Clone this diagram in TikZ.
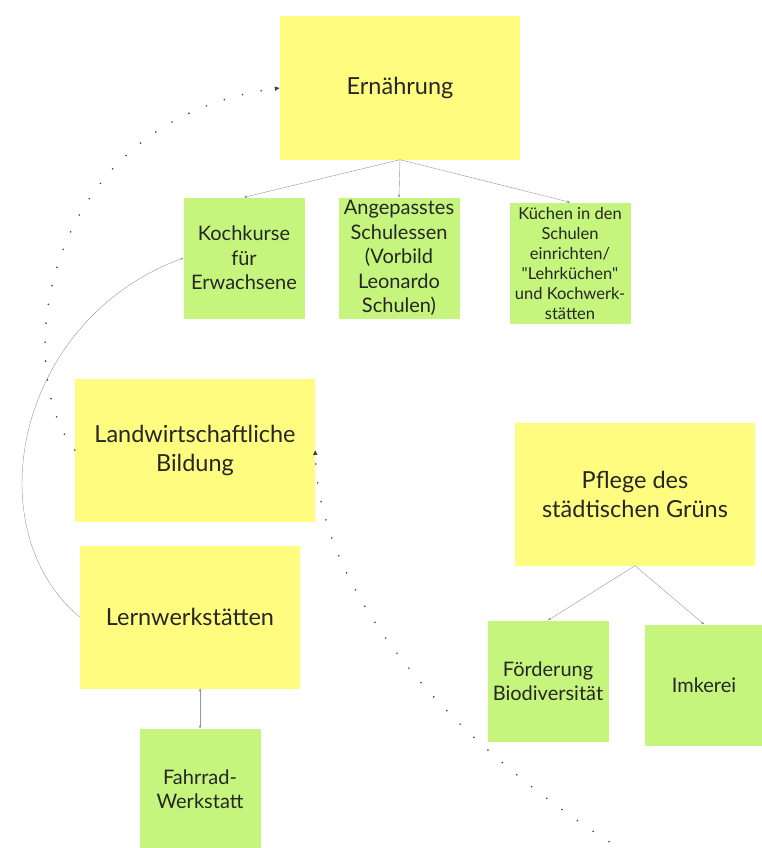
\documentclass[tikz,border=0pt]{standalone}
\usepackage{fontspec}
\setmainfont{Lato}
\usetikzlibrary{arrows.meta}
\definecolor{postityellow}{RGB}{255,252,128}
\definecolor{postitgreen}{RGB}{197,245,125}
\definecolor{linegray}{RGB}{150,150,150}

\begin{document}
\begin{tikzpicture}[x=1pt, y=-1pt,
    topic/.style={fill=postityellow, minimum width=240pt, minimum height=143pt,
      align=center, text=black!85, font=\fontsize{23.5}{29}\selectfont},
    idea/.style={fill=postitgreen, minimum width=121pt, minimum height=121pt,
      align=center, text=black!85, inner sep=1pt, font=\fontsize{20}{24.5}\selectfont},
    link/.style={draw=linegray, thin, -{Stealth[length=3pt, width=2.5pt]}},
    hint/.style={draw=black!75, line width=1.8pt, line cap=round,
      dash pattern=on 0pt off 19pt, -{Triangle[length=5pt, width=4pt]}}]
   \useasboundingbox (0,0) rectangle (762,848);
   % topics
   \node[topic] (ern)   at (400,88)  {Ernährung};
   \node[topic] (land)  at (195,450) {Landwirtschaftliche\\Bildung};
   \node[topic, minimum width=220pt] (lern) at (190,617) {Lernwerkstätten};
   \node[topic] (pflege) at (635,494) {Pflege des\\städtischen Grüns};
   % ideas
   \node[idea] (koch)  at (244,258) {Kochkurse\\für\\Erwachsene};
   \node[idea] (schul) at (399,258) {Angepasstes\\Schulessen\\(Vorbild\\Leonardo\\Schulen)};
   \node[idea, font=\fontsize{16.5}{20}\selectfont] (kueche) at (570,263)
      {Küchen in den\\Schulen\\einrichten/\\\textquotedbl Lehrküchen\textquotedbl\\und Kochwerk-\\stätten};
   \node[idea] (foerd) at (548,681) {Förderung\\Biodiversität};
   \node[idea, minimum width=118pt] (imker) at (704,685) {Imkerei};
   \node[idea] (rad)   at (200,789) {Fahrrad-\\Werkstatt};
   % connections
   \path[link]
    (ern.south) edge (koch.north)
    (ern.south) edge (schul.north)
    (ern.south) edge (kueche.north)
    (pflege.south) edge (foerd.north)
    (pflege.south) edge (imker.north)
    (rad.north |- lern.south) edge (rad.north);
   \draw[link] (lern.west) .. controls (-25,530) and (15,320) .. (koch.west);
   \draw[hint] (land.west) .. controls (10,370) and (40,120) .. (ern.west);
   \draw[hint] (625,852) .. controls (430,730) and (318,580) .. (land.east);
\end{tikzpicture}
\end{document}
